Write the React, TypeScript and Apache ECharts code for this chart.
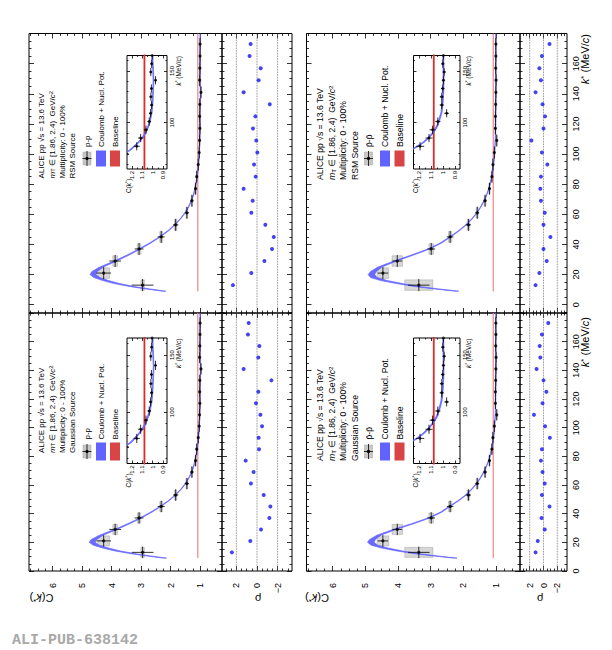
import React, { useEffect, useRef } from "react";
import * as echarts from "echarts";

// ---------------- data ----------------
const kStar = [13, 21, 29, 37, 45, 53, 61, 69, 77, 85, 93, 101, 109, 117, 125, 133, 141, 149, 157, 165, 173];

// p-p correlation function
const ppC = [2.95, 4.27, 3.88, 3.07, 2.32, 1.83, 1.45, 1.28, 1.155, 1.117, 1.065, 1.033, 1.02, 1.01, 1.017, 1.012, 0.972, 1.018, 1.01, 1.005, 1.002];
const ppStat = [0.37, 0.25, 0.2, 0.15, 0.12, 0.09, 0.07, 0.05, 0.03, 0.025, 0.02, 0.018, 0.016, 0.015, 0.014, 0.013, 0.013, 0.012, 0.012, 0.011, 0.011];
const ppSys = [0.06, 0.2, 0.08, 0.06, 0.05, 0.04, 0.03, 0.025, 0.02, 0.015, 0.012, 0.01, 0.01, 0.009, 0.009, 0.008, 0.008, 0.008, 0.007, 0.007, 0.007];

// pbar-pbar correlation function
const apC = [3.36, 4.46, 4.02, 2.98, 2.4, 1.84, 1.57, 1.33, 1.195, 1.12, 1.09, 1.046, 0.972, 1.013, 1.013, 1.005, 0.999, 0.993, 1.004, 0.999, 1.0];
const apStat = [0.33, 0.16, 0.15, 0.12, 0.1, 0.08, 0.06, 0.045, 0.035, 0.03, 0.025, 0.022, 0.02, 0.018, 0.016, 0.015, 0.014, 0.013, 0.013, 0.012, 0.012];
const apSys = [0.43, 0.18, 0.16, 0.07, 0.05, 0.04, 0.03, 0.025, 0.02, 0.015, 0.012, 0.01, 0.01, 0.009, 0.009, 0.008, 0.008, 0.008, 0.007, 0.007, 0.007];

// residuals (n sigma)
const rhoPPRSM = [2.34, 0.55, -0.72, -1.46, -1.63, -0.81, 0.55, 0.42, 1.3, 0.13, 0.29, -0.03, 0.07, 0.39, 0.16, -1.24, 1.3, -0.16, -0.36, 0.72, 0.62];
const rhoPPGaus = [2.44, 0.65, -0.39, -1.2, -1.3, -0.65, 0.59, 0.33, 1.1, -0.2, -0.16, -0.49, -0.33, 0.1, -0.13, -1.4, 1.3, -0.13, -0.23, 0.88, 0.81];
const rhoAPRSM = [1.15, 0.6, -0.46, 0.0, -1.0, 0.0, -0.18, 0.37, 0.46, 0.37, -0.55, 0.23, 1.75, 0.0, -0.23, 0.14, 1.15, 0.37, 0.6, 0.23, -0.87];
const rhoAPGaus = [1.15, 0.83, -0.18, 0.28, -0.87, 0.23, -0.18, 0.14, 0.37, 0.23, -0.92, -0.23, 1.38, 0.14, -0.41, 0.0, 1.0, 0.46, 0.55, 0.23, -0.69];

// Coulomb + nuclear potential model curves
const modelK = [9, 10.5, 12, 14, 16, 18, 20, 22, 25, 29, 33, 37, 41, 45, 49, 53, 57, 61, 65, 69, 73, 77, 81, 85, 90, 95, 100, 110, 120, 130, 140, 150, 160, 170, 180];
const ppGausModel = [2.2, 2.75, 3.25, 3.8, 4.2, 4.52, 4.66, 4.6, 4.35, 3.86, 3.42, 3.02, 2.66, 2.35, 2.07, 1.84, 1.65, 1.5, 1.38, 1.29, 1.22, 1.175, 1.135, 1.1, 1.07, 1.05, 1.03, 1.01, 1.0, 0.995, 0.99, 0.995, 1.0, 1.0, 1.0];
const ppRSMModel = [2.22, 2.78, 3.28, 3.82, 4.2, 4.5, 4.63, 4.58, 4.34, 3.87, 3.44, 3.05, 2.69, 2.37, 2.09, 1.86, 1.67, 1.51, 1.39, 1.3, 1.225, 1.178, 1.137, 1.1, 1.07, 1.048, 1.03, 1.01, 1.0, 0.996, 0.992, 0.995, 1.0, 1.0, 1.0];
const apGausModel = [2.25, 2.85, 3.4, 3.95, 4.4, 4.72, 4.83, 4.78, 4.58, 4.1, 3.55, 3.05, 2.68, 2.42, 2.15, 1.92, 1.74, 1.59, 1.47, 1.37, 1.29, 1.22, 1.17, 1.13, 1.09, 1.06, 1.04, 1.015, 1.005, 1.0, 0.998, 0.998, 1.0, 1.0, 1.0];
const apRSMModel = [2.2, 2.82, 3.38, 3.95, 4.42, 4.74, 4.81, 4.75, 4.55, 4.08, 3.55, 3.05, 2.68, 2.4, 2.14, 1.91, 1.73, 1.58, 1.46, 1.36, 1.28, 1.215, 1.165, 1.125, 1.088, 1.06, 1.04, 1.015, 1.005, 1.0, 0.998, 0.998, 1.0, 1.0, 1.0];
const modelBand = [0.06, 0.07, 0.08, 0.09, 0.1, 0.1, 0.1, 0.09, 0.06, 0.045, 0.035, 0.03, 0.025, 0.02, 0.016, 0.014, 0.012, 0.011, 0.01, 0.009, 0.008, 0.008, 0.007, 0.007, 0.006, 0.006, 0.005, 0.005, 0.004, 0.004, 0.004, 0.004, 0.004, 0.004, 0.004];

// baseline
const baselineK = [9, 180];
const baselineC = [1.08, 1.08];

// residual reference levels
const rhoRefLevels = [2, 0, -2];

// tick labels
const cTickLabels = [1, 2, 3, 4, 5, 6];
const kMajorTicks = [0, 20, 40, 60, 80, 100, 120, 140, 160, 180];
const kTickLabels = [0, 20, 40, 60, 80, 100, 120, 140, 160];
const rhoTickLabels = [-2, 0, 2];
const insetCTickLabels = [0.9, 1, 1.1, 1.2];
const insetKTickLabels = [100, 150];

const BIN_HALF = 4;
const SYS_HALF = 3.5;

// ---------------- layout / style ----------------
const FONT = "'Liberation Sans', Arial, Helvetica, sans-serif";
const BLUE = "#6262ff";
const RED_BOX = "#d94444";

const COLS = [
  { mainL: 29, mainR: 222, resR: 292, inL: 127, inR: 167, fs: 8, hx: [41.7, 52.3, 62.6, 72.8], mx: 87, bx0: 96, rx0: 110, tx: [87, 101, 115], inTitleX: 178.5, cTitleX: 41.5, rhoTitleX: 258 },
  { mainL: 306.5, mainR: 520, resR: 567, inL: 413.5, inR: 460, fs: 8.6, hx: [320, 331.5, 343, 354.5], mx: 368.5, bx0: 380, rx0: 394.5, tx: [368.5, 385, 399.5], inTitleX: 468.5, cTitleX: 317, rhoTitleX: 540 },
];
const ROWS = [
  { top: 33.5, bottom: 313, kMin: -5.5, inT: 55.5, inB: 169, ey: 147, by0: 150.5, by1: 166.5, kTitleY: 34 },
  { top: 313, bottom: 571, kMin: 0, inT: 338, inB: 463.5, ey: 439.5, by0: 442.5, by1: 460.5, kTitleY: 317 },
];

const PANELS = [
  { col: 0, row: 0, c: ppC, stat: ppStat, sys: ppSys, model: ppRSMModel, rho: rhoPPRSM, source: "RSM Source", pair: "p-p", hy: 178.5 },
  { col: 0, row: 1, c: ppC, stat: ppStat, sys: ppSys, model: ppGausModel, rho: rhoPPGaus, source: "Gaussian Source", pair: "p-p", hy: 453 },
  { col: 1, row: 0, c: apC, stat: apStat, sys: apSys, model: apRSMModel, rho: rhoAPRSM, source: "RSM Source", pair: "p\u0304-p\u0304", hy: 180 },
  { col: 1, row: 1, c: apC, stat: apStat, sys: apSys, model: apGausModel, rho: rhoAPGaus, source: "Gaussian Source", pair: "p\u0304-p\u0304", hy: 461 },
];

function steps(min: number, max: number, step: number, skip: number[]): number[] {
  const out: number[] = [];
  const start = Math.ceil(min / step - 1e-9);
  for (let i = start; i * step <= max + 1e-9; i++) {
    const v = Math.round(i * step * 1e6) / 1e6;
    if (v > min + 1e-9 && v < max - 1e-9 && !skip.some((s) => Math.abs(s - v) < 1e-6)) out.push(v);
  }
  return out;
}

function richFor(fs: number) {
  return {
    n: { fontSize: fs, fontFamily: FONT, fill: "#000", color: "#000" },
    i: { fontSize: fs, fontFamily: FONT, fontStyle: "italic", fill: "#000", color: "#000" },
    sub: { fontSize: fs * 0.72, fontFamily: FONT, fill: "#000", color: "#000", verticalAlign: "bottom" },
    sup: { fontSize: fs * 0.72, fontFamily: FONT, fill: "#000", color: "#000", verticalAlign: "top" },
  };
}

function textEl(x: number, y: number, text: string, fs: number, rot: number, align: string, extra: any = {}) {
  return {
    type: "text",
    x,
    y,
    rotation: rot,
    silent: true,
    z: 20,
    style: {
      text,
      fill: "#000",
      fontSize: fs,
      fontFamily: FONT,
      align,
      textAlign: align,
      verticalAlign: "middle",
      textVerticalAlign: "middle",
      rich: richFor(fs),
      ...extra,
    },
  };
}

function buildOption() {
  const grid: any[] = [];
  const xAxis: any[] = [];
  const yAxis: any[] = [];
  const series: any[] = [];
  const graphic: any[] = [];

  const addGrid = (l: number, t: number, r: number, b: number, bg: string) => {
    grid.push({
      left: l,
      top: t,
      width: r - l,
      height: b - t,
      show: true,
      borderColor: "#000",
      borderWidth: 1,
      backgroundColor: bg,
      containLabel: false,
      outerBoundsMode: "none",
    });
    return grid.length - 1;
  };

  const makeAxis = (gi: number, pos: string, s: any, ticks: number[], len: number, labels: boolean) => {
    const ax: any = {
      type: "value",
      gridIndex: gi,
      position: pos,
      min: s.min,
      max: s.max,
      inverse: !!s.inverse,
      axisLine: { show: false, onZero: false },
      splitLine: { show: false },
      splitArea: { show: false },
      minorTick: { show: false },
      minorSplitLine: { show: false },
      axisPointer: { show: false },
      axisTick: { show: true, inside: true, length: len, customValues: ticks, lineStyle: { color: "#000", width: 0.8 } },
      axisLabel: { show: false },
      silent: true,
    };
    if (labels && s.labels) {
      const lab: any = {
        show: true,
        customValues: s.labels,
        rotate: 90,
        margin: s.margin,
        fontSize: s.fs,
        fontFamily: FONT,
        color: "#000",
        hideOverlap: false,
      };
      if (s.fmt) lab.formatter = s.fmt;
      ax.axisLabel = lab;
    }
    return ax;
  };

  const addAxes = (gi: number, xs: any, ys: any, xLab: boolean, yLab: boolean) => {
    const xi = xAxis.length;
    xAxis.push(makeAxis(gi, "bottom", xs, xs.major, xs.len, xLab));
    xAxis.push(makeAxis(gi, "bottom", xs, xs.minor, xs.mlen, false));
    xAxis.push(makeAxis(gi, "top", xs, xs.major, xs.len, false));
    xAxis.push(makeAxis(gi, "top", xs, xs.minor, xs.mlen, false));
    const yi = yAxis.length;
    yAxis.push(makeAxis(gi, "left", ys, ys.major, ys.len, false));
    yAxis.push(makeAxis(gi, "left", ys, ys.minor, ys.mlen, false));
    yAxis.push(makeAxis(gi, "right", ys, ys.major, ys.len, yLab));
    yAxis.push(makeAxis(gi, "right", ys, ys.minor, ys.mlen, false));
    return { xi, yi };
  };

  const cSpec = { min: 0.26, max: 6.8, inverse: true, major: cTickLabels, minor: steps(0.26, 6.8, 0.25, cTickLabels), labels: cTickLabels, len: 5, mlen: 2.5, fs: 9, margin: 12 };
  const rSpec = {
    min: -3.4, max: 3.4, inverse: true, major: rhoTickLabels, minor: steps(-3.4, 3.4, 0.5, rhoTickLabels), labels: rhoTickLabels,
    fmt: (v: number) => (v < 0 ? "\u2212" + Math.abs(v) : String(v)), len: 5, mlen: 2.5, fs: 9, margin: 12,
  };
  const icSpec = { min: 0.86, max: 1.25, inverse: true, major: insetCTickLabels, minor: steps(0.86, 1.25, 0.05, insetCTickLabels), labels: insetCTickLabels, len: 3, mlen: 1.5, fs: 6, margin: 2 };
  const ikSpec = { min: 55, max: 165, major: insetKTickLabels, minor: steps(55, 165, 10, insetKTickLabels), labels: insetKTickLabels, len: 3, mlen: 1.5, fs: 6, margin: 2 };

  const bandRender = (model: number[]) => (params: any, api: any) => {
    const up = modelK.map((k, i) => api.coord([model[i] + modelBand[i], k]));
    const lo = modelK.map((k, i) => api.coord([model[i] - modelBand[i], k])).reverse();
    return { type: "polygon", shape: { points: up.concat(lo) }, style: { fill: BLUE, stroke: BLUE, lineWidth: 0.7, opacity: 0.95 } };
  };

  const sysRender = (params: any, api: any) => {
    const c = api.value(0), k = api.value(1), s = api.value(2);
    const a = api.coord([c + s, k + SYS_HALF]);
    const b = api.coord([c - s, k - SYS_HALF]);
    return {
      type: "rect",
      shape: { x: Math.min(a[0], b[0]), y: Math.min(a[1], b[1]), width: Math.abs(a[0] - b[0]), height: Math.abs(a[1] - b[1]) },
      style: { fill: "rgba(175,175,175,0.5)", stroke: "rgba(120,120,120,0.6)", lineWidth: 0.5 },
    };
  };

  const errRender = (params: any, api: any) => {
    const c = api.value(0), k = api.value(1), e = api.value(2);
    const a = api.coord([c - e, k]), b = api.coord([c + e, k]);
    const u = api.coord([c, k - BIN_HALF]), d = api.coord([c, k + BIN_HALF]);
    return {
      type: "group",
      children: [
        { type: "line", shape: { x1: a[0], y1: a[1], x2: b[0], y2: b[1] }, style: { stroke: "#000", lineWidth: 0.8 } },
        { type: "line", shape: { x1: u[0], y1: u[1], x2: d[0], y2: d[1] }, style: { stroke: "#000", lineWidth: 0.8 } },
      ],
    };
  };

  const addCorrSeries = (ax: any, p: any, inset: boolean) => {
    const base = { xAxisIndex: ax.xi, yAxisIndex: ax.yi, silent: true, animation: false };
    series.push({
      ...base, type: "line", data: baselineK.map((k, i) => [baselineC[i], k]), symbol: "none", clip: true,
      lineStyle: { color: inset ? "#dd2a2a" : "#ef8585", width: inset ? 1.8 : 1.2 }, z: 2,
    });
    series.push({ ...base, type: "custom", clip: true, data: [[1, 100]], renderItem: bandRender(p.model), z: 3 });
    if (!inset) {
      series.push({ ...base, type: "custom", clip: true, data: kStar.map((k, i) => [p.c[i], k, p.sys[i]]), renderItem: sysRender, z: 2 });
    }
    series.push({ ...base, type: "custom", clip: true, data: kStar.map((k, i) => [p.c[i], k, p.stat[i]]), renderItem: errRender, z: 4 });
    series.push({
      ...base, type: "scatter", clip: true, data: kStar.map((k, i) => [p.c[i], k]), symbol: "circle", symbolSize: inset ? 2.8 : 3.2,
      itemStyle: { color: "#000" }, z: 5,
    });
  };

  PANELS.forEach((p) => {
    const col = COLS[p.col];
    const row = ROWS[p.row];
    const kSpec = {
      min: row.kMin, max: 180, major: kMajorTicks.filter((v) => v >= row.kMin && v <= 180),
      minor: steps(row.kMin, 180, 5, kMajorTicks), labels: kTickLabels, len: 5, mlen: 2.5, fs: 9, margin: 4,
    };
    const gMain = addGrid(col.mainL, row.top, col.mainR, row.bottom, "rgba(0,0,0,0)");
    const gRes = addGrid(col.mainR, row.top, col.resR, row.bottom, "rgba(0,0,0,0)");
    const gIn = addGrid(col.inL, row.inT, col.inR, row.inB, "#ffffff");
    const showC = p.row === 1;
    const showK = p.col === 1;
    const m = addAxes(gMain, cSpec, kSpec, showC, false);
    const r = addAxes(gRes, rSpec, kSpec, showC, showK);
    const ins = addAxes(gIn, icSpec, ikSpec, true, true);

    addCorrSeries(m, p, false);
    addCorrSeries(ins, p, true);

    // residual panel
    rhoRefLevels.forEach((lv) => {
      series.push({
        type: "line", xAxisIndex: r.xi, yAxisIndex: r.yi, silent: true, animation: false, symbol: "none",
        data: [[lv, row.kMin], [lv, 180]], lineStyle: { color: "#666", width: 0.8, type: "dotted" }, z: 2,
      });
    });
    series.push({
      type: "scatter", xAxisIndex: r.xi, yAxisIndex: r.yi, silent: true, animation: false, clip: true,
      data: kStar.map((k, i) => [p.rho[i], k]), symbol: "circle", symbolSize: 4, itemStyle: { color: "#1414f0" }, z: 5,
    });

    // legend / text
    const fs = col.fs;
    const hdr = [
      "ALICE pp \u221As = 13.6 TeV",
      "{i|m}{sub|T}{n| \u2208 [1.86, 2.4)  GeV/}{i|c}{sup|2}",
      "Multiplicity: 0 - 100%",
      p.source,
    ];
    hdr.forEach((t, j) => graphic.push(textEl(col.hx[j], p.hy, t, fs, Math.PI / 2, "left")));

    const my = (row.by0 + row.by1) / 2;
    graphic.push({ type: "rect", silent: true, z: 19, shape: { x: col.mx - 4, y: my - 6.5, width: 8, height: 13 }, style: { fill: "#c8c8c8", stroke: "#a0a0a0", lineWidth: 0.5 } });
    graphic.push({ type: "line", silent: true, z: 20, shape: { x1: col.mx - 4.5, y1: my, x2: col.mx + 4.5, y2: my }, style: { stroke: "#000", lineWidth: 0.8 } });
    graphic.push({ type: "line", silent: true, z: 20, shape: { x1: col.mx, y1: my - 7.5, x2: col.mx, y2: my + 7.5 }, style: { stroke: "#000", lineWidth: 0.8 } });
    graphic.push({ type: "circle", silent: true, z: 21, shape: { cx: col.mx, cy: my, r: 1.6 }, style: { fill: "#000" } });
    graphic.push({ type: "rect", silent: true, z: 19, shape: { x: col.bx0, y: row.by0, width: 10, height: row.by1 - row.by0 }, style: { fill: BLUE } });
    graphic.push({ type: "rect", silent: true, z: 19, shape: { x: col.rx0, y: row.by0, width: 10, height: row.by1 - row.by0 }, style: { fill: RED_BOX } });
    graphic.push(textEl(col.tx[0], row.ey, p.pair, fs, Math.PI / 2, "left"));
    graphic.push(textEl(col.tx[1], row.ey, "Coulomb + Nucl. Pot.", fs, Math.PI / 2, "left"));
    graphic.push(textEl(col.tx[2], row.ey, "Baseline", fs, Math.PI / 2, "left"));

    // inset titles
    graphic.push(textEl(col.inL + 1.5, row.inB + 24, "{n|C(}{i|k}{sup|*}{n|)}", 6.5, Math.PI / 2, "left"));
    graphic.push(textEl(col.inTitleX, row.inT + 0.5, "{i|k}{sup|*}{n| (MeV/}{i|c}{n|)}", 6.5, Math.PI / 2, "right"));

    // axis titles
    if (p.row === 1) {
      graphic.push(textEl(col.cTitleX, 598, "{n|C(}{i|k}{sup|*}{n|)}", 11, Math.PI, "center"));
      graphic.push(textEl(col.rhoTitleX, 599, "\u03C1", 11, Math.PI, "center"));
    }
    if (p.col === 1) {
      graphic.push(textEl(585, row.kTitleY, "{i|k}{sup|*}{n| (MeV/}{i|c}{n|)}", 11, Math.PI / 2, "right"));
    }
  });

  graphic.push({
    type: "text", x: 12, y: 640, silent: true, z: 20,
    style: { text: "ALI-PUB-638142", fill: "#a9a9a9", fontSize: 15, fontWeight: "bold", fontFamily: "'Liberation Mono', 'DejaVu Sans Mono', monospace", align: "left", textAlign: "left", verticalAlign: "middle", textVerticalAlign: "middle" },
  });

  return {
    animation: false,
    backgroundColor: "#ffffff",
    grid,
    xAxis,
    yAxis,
    series,
    graphic,
  };
}

export default function App() {
  const ref = useRef<HTMLDivElement>(null);
  useEffect(() => {
    if (!ref.current) return;
    const chart = echarts.init(ref.current, null, { renderer: "svg", width: 612, height: 650 });
    chart.setOption(buildOption() as any);
    return () => chart.dispose();
  }, []);
  return (
    <div
      ref={ref}
      style={{ position: "fixed", left: 0, top: 0, width: 612, height: 650, background: "#fff" }}
    />
  );
}
